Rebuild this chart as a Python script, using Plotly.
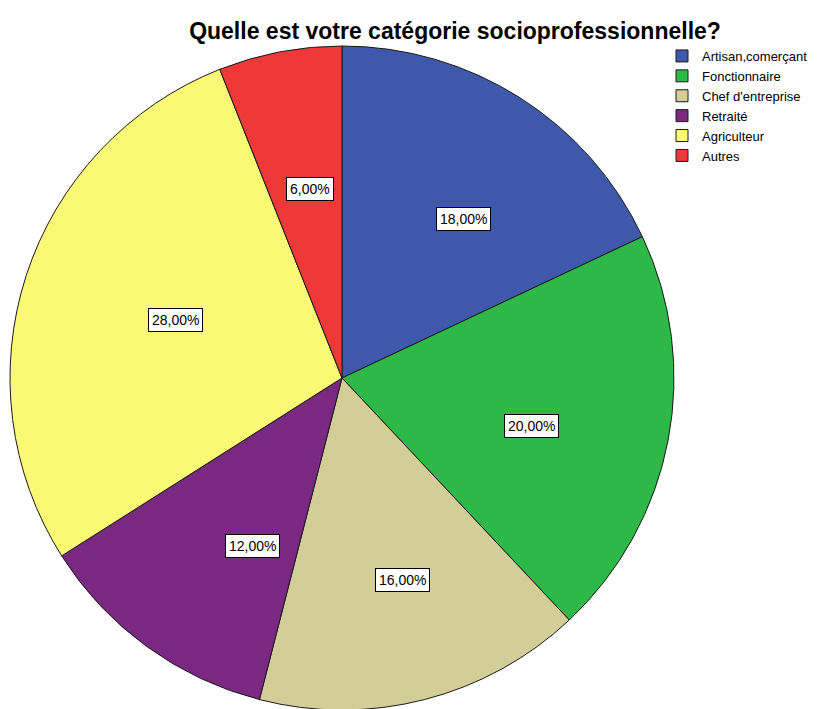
import math
import plotly.graph_objects as go

categories = ["Artisan,comerçant", "Fonctionnaire", "Chef d'entreprise", "Retraité", "Agriculteur", "Autres"]
values = [18, 20, 16, 12, 28, 6]
colors = ["#3E58AC", "#2EB848", "#D3CE97", "#7A2881", "#FBF876", "#EF3939"]

W, H = 824, 709
cx_px, cy_px_top, R = 342, 378, 332
# empirical offset of plotly's pie placement
dom_x = [(cx_px - 8 - R) / W, (cx_px - 8 + R) / W]
dom_y = [7 / H, (7 + 2 * R) / H]

fig = go.Figure(go.Pie(
    labels=categories, values=values, sort=False, direction="clockwise", rotation=0,
    marker=dict(colors=colors, line=dict(color="#1a1a1a", width=1)),
    textinfo="none", hoverinfo="label+percent",
    domain=dict(x=dom_x, y=dom_y),
))

# labels with white boxes at mid-angle of each slice
total = sum(values)
cum = 0
cy_paper = (H - cy_px_top) / H
for v in values:
    mid = (cum + v / 2) / total * 2 * math.pi
    cum += v
    r = 0.64 * R
    x = (cx_px + r * math.sin(mid)) / W
    y = cy_paper + (r * math.cos(mid)) / H
    fig.add_annotation(x=x, y=y, xref="paper", yref="paper", showarrow=False,
                       text=f"{v / total * 100:.2f}%".replace(".", ","),
                       font=dict(family="Arial, Liberation Sans", size=14, color="black"),
                       bgcolor="white", bordercolor="black", borderwidth=1, borderpad=3)

fig.update_layout(
    width=W, height=H, margin=dict(l=0, r=0, t=0, b=0),
    paper_bgcolor="white", plot_bgcolor="white",
    title=dict(text="<b>Quelle est votre catégorie socioprofessionnelle?</b>",
               x=447 / W, xanchor="center", y=1 - 23 / H, yanchor="middle",
               font=dict(family="Arial, Liberation Sans", size=23, color="black")),
    legend=dict(x=654 / W, y=1 - 33 / H, xanchor="left", yanchor="top",
                font=dict(family="Arial, Liberation Sans", size=13, color="black"),
                itemwidth=30, tracegroupgap=0, bgcolor="rgba(0,0,0,0)"),
    showlegend=True,
)

fig.write_html("out.html")
